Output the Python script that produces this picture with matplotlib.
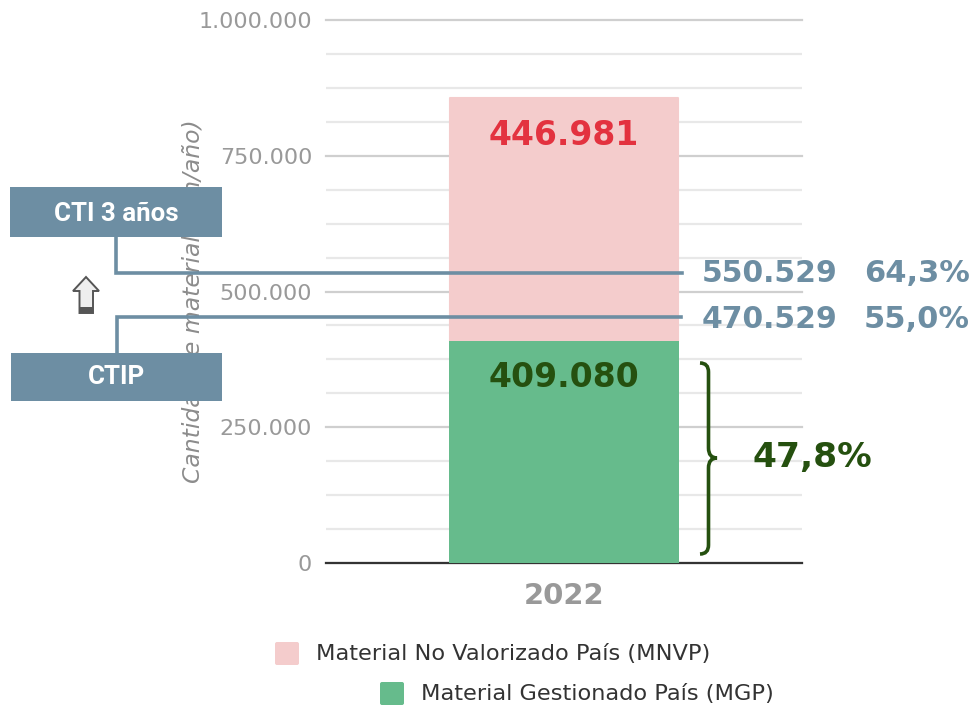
import matplotlib
matplotlib.use('Agg')
import matplotlib.pyplot as plt
from matplotlib.patches import Rectangle, Polygon, PathPatch, FancyBboxPatch
from matplotlib.path import Path
from matplotlib.ticker import MultipleLocator, FuncFormatter

# data
year = ['2022']
mgp = [409080]
mnvp = [446981]
y_ticks = [0, 250000, 500000, 750000, 1000000]
legend_labels = ['Material No Valorizado País (MNVP)', 'Material Gestionado País (MGP)']
cti_labels = ['550.529', '64,3%']
ctip_labels = ['470.529', '55,0%']
mgp_share = '47,8%'

W, H = 976, 705
blue = '#6d8ea3'
pink = '#f4cccc'
green = '#66bb8c'
dark_green = '#25500f'
gray = '#999999'

fig = plt.figure(figsize=(W / 100, H / 100), dpi=100)
ax = fig.add_axes([326 / W, 1 - 563 / H, (802 - 326) / W, (563 - 20) / H])
ax.set_xlim(-1.03, 1.03)
ax.set_ylim(0, 1000000)

ax.bar([0], mnvp, width=0.987, bottom=mgp, color=pink, edgecolor=pink, linewidth=1.5, joinstyle='round', zorder=3)
ax.bar([0], mgp, width=0.995, color=green, zorder=4)

ax.set_yticks(y_ticks)
ax.yaxis.set_major_formatter(FuncFormatter(lambda v, p: f'{int(v):,}'.replace(',', '.')))
ax.yaxis.set_minor_locator(MultipleLocator(62500))
ax.set_xticks([0])
ax.set_xticklabels(year)
ax.tick_params(axis='y', which='both', length=0, labelsize=16, labelcolor=gray, pad=10)
ax.tick_params(axis='x', length=0, labelsize=21, labelcolor=gray, pad=14)
for t in ax.get_xticklabels():
    t.set_fontweight('bold')
ax.grid(True, axis='y', which='major', color='#cfcfcf', lw=1.6, zorder=1)
ax.grid(True, axis='y', which='minor', color='#e8e8e8', lw=1.6, zorder=1)
for l in ax.get_ygridlines():
    l.set_clip_on(False)
for s in ['top', 'left', 'right']:
    ax.spines[s].set_visible(False)
ax.spines['bottom'].set_color('#333333')
ax.spines['bottom'].set_linewidth(1.6)

ax.set_ylabel('Cantidad de material (ton/año)', fontsize=16.9, style='italic', color='#8c8c8c')
ax.yaxis.set_label_coords((205 - 326) / (802 - 326), (563 - 301) / (563 - 20))

# value labels inside the bar
ax.text(0, mgp[0] + mnvp[0] - 68000, f'{mnvp[0]:,}'.replace(',', '.'), ha='center', va='center',
        fontsize=23.8, fontweight='bold', color='#e3323f', zorder=5)
ax.text(0, mgp[0] - 68000, f'{mgp[0]:,}'.replace(',', '.'), ha='center', va='center',
        fontsize=23.8, fontweight='bold', color=dark_green, zorder=5)

# overlay in pixel coordinates for the hand placed callouts
ov = fig.add_axes([0, 0, 1, 1], zorder=5)
ov.set_xlim(0, W)
ov.set_ylim(H, 0)
ov.axis('off')
ov.patch.set_alpha(0)

ov.add_patch(Rectangle((10, 187), 212, 50, color=blue, lw=0))
ov.add_patch(Rectangle((11, 353), 211, 48, color=blue, lw=0))
box_font = ['Liberation Sans Narrow', 'Roboto', 'DejaVu Sans']
ov.text(116, 214, 'CTI 3 años', ha='center', va='center', color='white', fontsize=18.6, fontweight='bold', family=box_font)
ov.text(116.5, 377, 'CTIP', ha='center', va='center', color='white', fontsize=18.6, fontweight='bold', family=box_font)

ov.plot([116, 116, 682], [237, 272.5, 272.5], color=blue, lw=2.6, solid_joinstyle='miter')
ov.plot([117, 117, 681], [353, 317, 317], color=blue, lw=2.6, solid_joinstyle='miter')

ov.text(702, 274, cti_labels[0], ha='left', va='center', fontsize=21.5, fontweight='bold', color=blue)
ov.text(864, 274, cti_labels[1], ha='left', va='center', fontsize=22, fontweight='bold', color=blue)
ov.text(702, 320, ctip_labels[0], ha='left', va='center', fontsize=21.5, fontweight='bold', color=blue)
ov.text(864, 320, ctip_labels[1], ha='left', va='center', fontsize=22, fontweight='bold', color=blue)

# up arrow
ov.add_patch(Polygon([(86, 277), (99, 291), (93, 291), (93, 313), (79.5, 313), (79.5, 291), (73, 291)],
                     closed=True, fc='#eeeeee', ec='#555555', lw=1.4))
ov.add_patch(Rectangle((79.5, 307), 13.5, 6, color='#555555', lw=0))

# brace next to the green segment
verts = [(700, 363), (708.5, 363), (708.5, 372), (708.5, 380),
         (708.5, 448), (708.5, 458), (717, 458), (708.5, 458), (708.5, 468),
         (708.5, 545), (708.5, 554), (700, 554)]
codes = [Path.MOVETO, Path.CURVE3, Path.CURVE3, Path.LINETO,
         Path.LINETO, Path.CURVE3, Path.CURVE3, Path.CURVE3, Path.CURVE3,
         Path.LINETO, Path.CURVE3, Path.CURVE3]
ov.add_patch(PathPatch(Path(verts, codes), fc='none', ec=dark_green, lw=2.6))
ov.text(752, 458, mgp_share, ha='left', va='center', fontsize=24.8, fontweight='bold', color=dark_green)

# legend, staggered like the original
ov.add_patch(FancyBboxPatch((275, 642), 24, 23, boxstyle='round,pad=0,rounding_size=2', fc=pink, ec='none'))
ov.add_patch(FancyBboxPatch((380, 682), 24, 23, boxstyle='round,pad=0,rounding_size=2', fc=green, ec='none'))
ov.text(316, 654, legend_labels[0], ha='left', va='center', fontsize=16.2, color='#333333')
ov.text(421, 694, legend_labels[1], ha='left', va='center', fontsize=16.2, color='#333333')

fig.savefig('out.png', dpi=100)
